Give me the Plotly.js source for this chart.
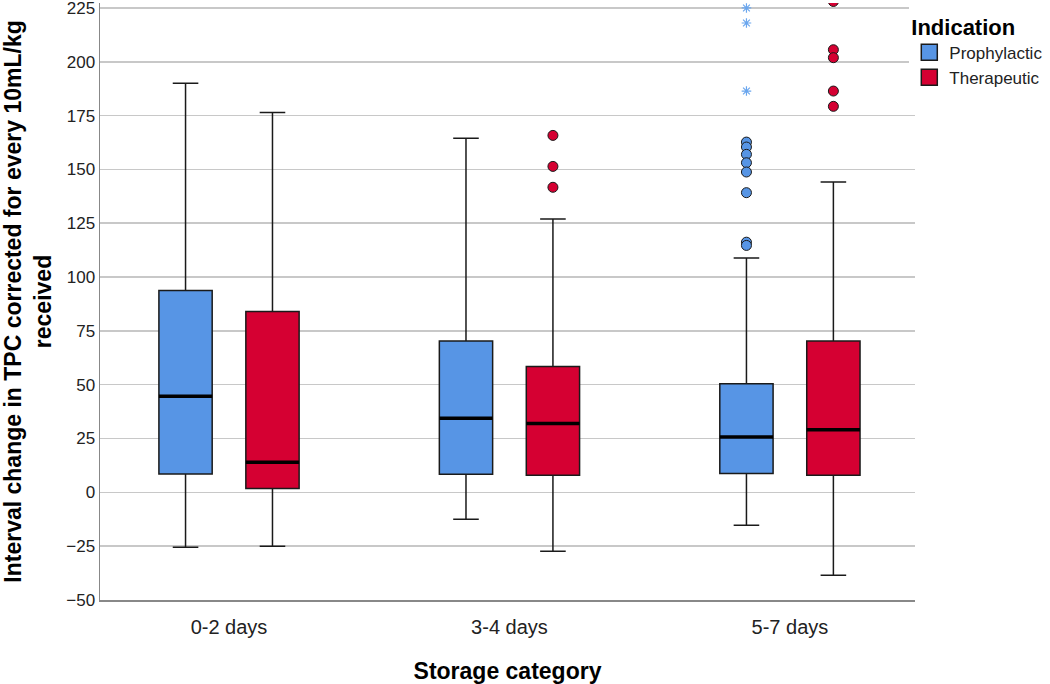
<!DOCTYPE html>
<html>
<head>
<meta charset="utf-8">
<script src="https://cdn.plot.ly/plotly-3.0.1.min.js"></script>
<style>
  html, body { margin: 0; padding: 0; background: #fff; }
  #chart { width: 1050px; height: 684px; }
</style>
</head>
<body>
<div id="chart"></div>
<script>
const categories = ['0-2 days', '3-4 days', '5-7 days'];
const groups = ['Prophylactic', 'Therapeutic'];

// Prophylactic box stats
const prophLower = [-25.5, -12.5, -15.3];
const prophQ1 = [8.5, 8.4, 8.8];
const prophMedian = [44.6, 34.4, 25.7];
const prophQ3 = [93.8, 70.3, 50.5];
const prophUpper = [190, 164.5, 108.8];

// Therapeutic box stats
const theraLower = [-25, -27.4, -38.5];
const theraQ1 = [1.8, 8, 7.9];
const theraMedian = [14, 32, 29.1];
const theraQ3 = [84, 58.5, 70.3];
const theraUpper = [176.4, 127, 144.1];

// outliers (circles) and extremes (stars), one list per category
const prophOutliers = [[], [], [162.7, 160.4, 157, 153.1, 148.8, 139.2, 116.2, 114.7]];
const prophExtremes = [[], [], [225, 218, 186.4]];
const theraOutliers = [[], [165.8, 151.4, 141.7], [228, 205.6, 201.9, 186.4, 179.3]];

const BLUE = '#5795E5';
const RED = '#D50032';
const STAR = '#6aa6ee';
const OFF = 0.155;     // box offset from category centre
const BW = 0.19;       // box width

const xs = (off) => categories.map((c, i) => i + off);

function flatten(lists, off) {
    const x = [], y = [];
    lists.forEach((vals, i) => vals.forEach(v => { x.push(i + off); y.push(v); }));
    return { x, y };
}

function boxTrace(name, off, lo, q1, med, q3, up, color) {
    return {
        type: 'box', name: name, x: xs(off),
        lowerfence: lo, q1: q1, median: med, q3: q3, upperfence: up,
        width: BW, whiskerwidth: 0.48, boxpoints: false,
        fillcolor: color, line: { color: '#1a1a1a', width: 1.5 },
        showlegend: false, hoverinfo: 'skip'
    };
}

function medianTrace(name, off, med) {
    return {
        type: 'box', name: name, x: xs(off),
        lowerfence: med, q1: med, median: med, q3: med, upperfence: med,
        width: BW, whiskerwidth: 0, boxpoints: false,
        fillcolor: 'rgba(0,0,0,0)', line: { color: '#000', width: 3.5 },
        showlegend: false, hoverinfo: 'skip'
    };
}

// legend-only swatches
function legendTrace(name, color) {
    return {
        type: 'scatter', mode: 'markers', name: name, x: [null], y: [null],
        marker: { symbol: 'square', size: 16, color: color, line: { color: '#1a1a1a', width: 1.5 } }
    };
}

const po = flatten(prophOutliers, -OFF);
const pe = flatten(prophExtremes, -OFF);
const to = flatten(theraOutliers, OFF);

const traces = [
    boxTrace(groups[0], -OFF, prophLower, prophQ1, prophMedian, prophQ3, prophUpper, BLUE),
    boxTrace(groups[1], OFF, theraLower, theraQ1, theraMedian, theraQ3, theraUpper, RED),
    medianTrace(groups[0], -OFF, prophMedian),
    medianTrace(groups[1], OFF, theraMedian),
    {
        type: 'scatter', mode: 'markers', x: po.x, y: po.y, showlegend: false, hoverinfo: 'skip',
        marker: { symbol: 'circle', size: 10, color: BLUE, line: { color: '#1a1a1a', width: 1 } }
    },
    {
        type: 'scatter', mode: 'markers', x: pe.x, y: pe.y, showlegend: false, hoverinfo: 'skip',
        marker: { symbol: 'asterisk-open', size: 8, color: STAR, line: { color: STAR, width: 1.2 } }
    },
    {
        type: 'scatter', mode: 'markers', x: to.x, y: to.y, showlegend: false, hoverinfo: 'skip',
        marker: { symbol: 'circle', size: 10, color: RED, line: { color: '#1a1a1a', width: 1 } }
    },
    legendTrace(groups[0], BLUE),
    legendTrace(groups[1], RED)
];

const layout = {
    width: 1050, height: 684,
    margin: { l: 100, r: 135, t: 3, b: 84, autoexpand: false },
    paper_bgcolor: '#fff',
    plot_bgcolor: '#fff',
    font: { family: 'Liberation Sans, Arial, sans-serif', color: '#222' },
    xaxis: {
        range: [-0.46, 2.446],
        tickvals: [0, 1, 2],
        ticktext: categories,
        tickfont: { size: 20, color: '#222' },
        ticklabelstandoff: 8,
        showgrid: false, zeroline: false,
        showline: true, linecolor: '#888', linewidth: 1.5,
        ticks: '',
        title: { text: '<b>Storage category</b>', font: { size: 23, color: '#000' }, standoff: 26 }
    },
    yaxis: {
        range: [-50, 227.3],
        tick0: -50, dtick: 25,
        tickfont: { size: 17, color: '#222' },
        ticklabeloverflow: 'allow',
        gridcolor: '#c8c8c8', gridwidth: 1.5,
        zeroline: false,
        showline: true, linecolor: '#888', linewidth: 1.5,
        ticks: '',
        title: {
            text: '<b>Interval change in TPC corrected for every 10mL/kg<br>received</b>',
            font: { size: 23, color: '#000' }, standoff: 8
        }
    },
    legend: {
        x: 0.993, y: 0.995, xanchor: 'left', yanchor: 'top',
        title: { text: '<b>Indication</b>', font: { size: 22, color: '#000' } },
        font: { size: 17, color: '#222' },
        itemsizing: 'trace',
        itemwidth: 30,
        tracegroupgap: 0
    },
    showlegend: true
};

Plotly.newPlot('chart', traces, layout, { displayModeBar: false, staticPlot: true });
</script>
</body>
</html>
